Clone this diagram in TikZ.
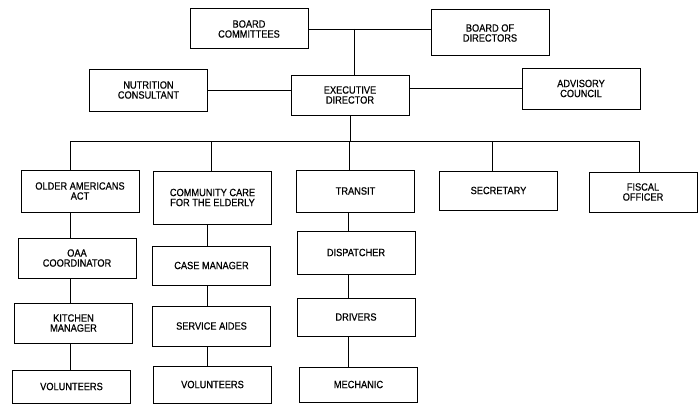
\documentclass[tikz,border=0pt]{standalone}
\usepackage{fontspec}
\setmainfont[FakeStretch=0.88,FakeBold=0.6]{Liberation Sans}
\begin{document}
\begin{tikzpicture}[x=1pt,y=-1pt,
  box/.style={draw, line width=1pt, minimum width=118pt, align=center,
    font=\fontsize{10.5}{10}\selectfont, inner sep=0pt},
  link/.style={line width=0.8pt}]
\useasboundingbox (0,0) rectangle (698,404);
% top
\node[box, minimum height=40pt] (bc) at (249,29) {BOARD\\COMMITTEES};
\node[box, minimum height=46pt] (bd) at (490,33) {BOARD OF\\DIRECTORS};
\node[box, minimum height=42pt] (nc) at (148.5,90) {NUTRITION\\CONSULTANT};
\node[box, minimum height=40pt] (ed) at (350,95) {EXECUTIVE\\DIRECTOR};
\node[box, minimum height=41pt] (ac) at (581,88.5) {ADVISORY\\COUNCIL};
% row 2
\node[box, minimum height=42pt] (oaa) at (80,191) {OLDER AMERICANS\\ACT};
\node[box, minimum height=53pt] (ccfe) at (212.5,197.5) {COMMUNITY CARE\\FOR THE ELDERLY};
\node[box, minimum height=42pt] (tr) at (355.5,191) {TRANSIT};
\node[box, minimum height=39pt] (sec) at (498.5,190.5) {SECRETARY};
\node[box, minimum height=40pt, minimum width=108pt] (fo) at (643,192) {FISCAL\\OFFICER};
% row 3
\node[box, minimum height=40pt] (oaac) at (77,258) {OAA\\COORDINATOR};
\node[box, minimum height=39pt] (cm) at (211.5,265.5) {CASE MANAGER};
\node[box, minimum height=43pt] (dis) at (356,252.5) {DISPATCHER};
% row 4
\node[box, minimum height=40pt] (km) at (73.5,323) {KITCHEN\\MANAGER};
\node[box, minimum height=40pt] (sa) at (211.5,326) {SERVICE AIDES};
\node[box, minimum height=38pt] (dr) at (356,317) {DRIVERS};
% row 5
\node[box, minimum height=33pt] (v1) at (71.5,386.5) {VOLUNTEERS};
\node[box, minimum height=37pt] (v2) at (212.5,384.5) {VOLUNTEERS};
\node[box, minimum height=35pt] (me) at (358.5,384.5) {MECHANIC};
% coordinates
\coordinate (bj) at (354,29);
\coordinate (bus) at (350,141);
\coordinate (d1) at (70,141);
\coordinate (d2) at (211,141);
\coordinate (d3) at (349,141);
\coordinate (d4) at (492,141);
\coordinate (d5) at (639,141);
\coordinate (c1) at (70,0);
\coordinate (c2) at (207,0);
\coordinate (c3) at (348,0);
% connectors
\draw[link] (bc.east) -- (bc.east -| bd.west);
\draw[link] (bj) -- (bj |- ed.north);
\draw[link] (nc.east) -- (nc.east -| ed.west);
\draw[link] (ac.west) -- (ac.west -| ed.east);
\draw[link] (ed.south) -- (bus);
\draw[link] (d1) -- (d5);
\draw[link] (d1) -- (d1 |- oaa.north);
\draw[link] (d2) -- (d2 |- ccfe.north);
\draw[link] (d3) -- (d3 |- tr.north);
\draw[link] (d4) -- (d4 |- sec.north);
\draw[link] (d5) -- (d5 |- fo.north);
\draw[link] (c1 |- oaa.south) -- (c1 |- oaac.north);
\draw[link] (c1 |- oaac.south) -- (c1 |- km.north);
\draw[link] (c1 |- km.south) -- (c1 |- v1.north);
\draw[link] (c2 |- ccfe.south) -- (c2 |- cm.north);
\draw[link] (c2 |- cm.south) -- (c2 |- sa.north);
\draw[link] (c2 |- sa.south) -- (c2 |- v2.north);
\draw[link] (c3 |- tr.south) -- (c3 |- dis.north);
\draw[link] (c3 |- dis.south) -- (c3 |- dr.north);
\draw[link] (c3 |- dr.south) -- (c3 |- me.north);
\end{tikzpicture}
\end{document}
